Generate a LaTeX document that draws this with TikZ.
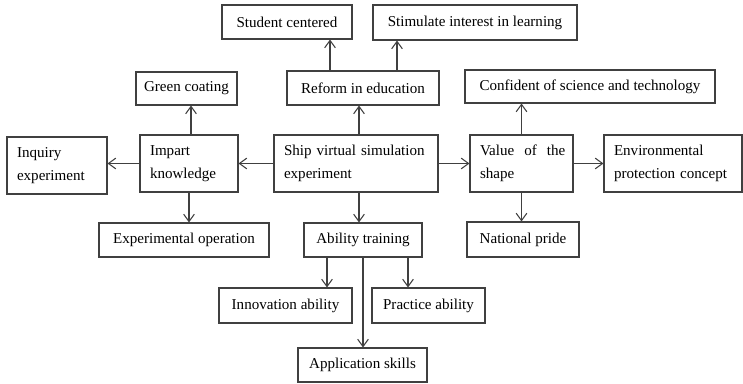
\documentclass[tikz,border=0pt]{standalone}
\usepackage{fontspec}
\setmainfont{Liberation Serif}
\usepackage{tikz}
\usetikzlibrary{arrows.meta,positioning,calc}
\definecolor{edgegray}{RGB}{64,64,64}
\tikzset{
    box/.style={draw=edgegray, line width=0.8pt, minimum width=#1,
                minimum height=25.5pt, inner sep=2pt, align=center,
                font=\fontsize{11.3}{17}\selectfont},
    tbox/.style={draw=edgegray, line width=0.8pt, text width=#1,
                 minimum height=42.75pt, inner xsep=7.5pt, align=left,
                 font=\fontsize{11.3}{17}\selectfont},
}
\begin{document}
\begin{tikzpicture}[
    x=0.75pt, y=-0.75pt,
    arr/.style={-{Straight Barb[length=5.5pt,width=8pt]}, draw=edgegray,
                line width=0.8pt}
]
    \useasboundingbox (0,0) rectangle (743,384);
    % top row
    \node[box=97.5pt] (stu) at (287,22) {Student centered};
    \node[box=153pt, minimum height=26.25pt] (stim) at (475,22.5)
        {Stimulate interest in learning};
    \node[box=75.75pt, minimum height=24.75pt] (green) at (186.5,88.5)
        {Green coating};
    \node[box=114pt] (reform) at (363,88) {Reform in education};
    \node[box=187.5pt, minimum height=24.75pt] (conf) at (590,86.5)
        {Confident of science and technology};
    % middle row
    \node[tbox=60pt] (inq) at (57,165.5) {Inquiry\\experiment};
    \node[tbox=58.5pt] (imp) at (189,163.5) {Impart\\knowledge};
    \node[tbox=108pt] (ship) at (356,163.5)
        {Ship virtual simulation\\experiment};
    \node[tbox=62.25pt] (val) at (521.5,163.5) {Value~~of~~the\\shape};
    \node[tbox=88.5pt] (env) at (673,163.5)
        {Environmental\\protection concept};
    % lower rows
    \node[box=127.5pt] (expop) at (184,240) {Experimental operation};
    \node[box=88.5pt] (abil) at (363,240) {Ability training};
    \node[box=84pt, minimum height=26.25pt] (nat) at (523,239.5)
        {National pride};
    \node[box=99.75pt, minimum height=26.25pt] (innov) at (285.5,305.5)
        {Innovation ability};
    \node[box=84.75pt, minimum height=26.25pt] (prac) at (428.5,305.5)
        {Practice ability};
    \node[box=96.75pt] (appl) at (362.5,365) {Application skills};

    \draw[arr] ($(reform.north)+(-33,0)$) -- ($(stu.south)+(43,0)$);
    \draw[arr] ($(reform.north)+(34,0)$) -- ($(stim.south)+(-78,0)$);
    \draw[arr] ($(ship.north)+(3,0)$) -- ($(reform.south)+(-4,0)$);
    \draw[arr] ($(imp.north)+(2,0)$) -- ($(green.south)+(4.5,0)$);
    \draw[arr] (ship.west) -- (imp.east);
    \draw[arr] (imp.west) -- (imp.west -| inq.east);
    \draw[arr] (ship.east) -- (val.west);
    \draw[arr] (val.east) -- (env.west);
    \draw[arr] (val.north) -- (val.north |- conf.south);
    \draw[arr] (val.south) -- (val.south |- nat.north);
    \draw[arr] (imp.south) -- (imp.south |- expop.north);
    \draw[arr] ($(ship.south)+(3,0)$) -- ($(abil.north)+(-4,0)$);
    \draw[arr] ($(abil.south)+(-36,0)$) -- ($(innov.north)+(41.5,0)$);
    \draw[arr] (abil.south) -- (abil.south |- appl.north);
    \draw[arr] ($(abil.south)+(45,0)$) -- ($(prac.north)+(-20.5,0)$);
\end{tikzpicture}
\end{document}
